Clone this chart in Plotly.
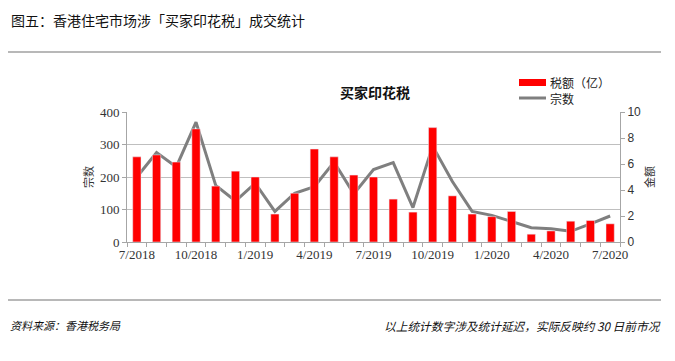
import plotly.graph_objects as go

months = ["7/2018", "8/2018", "9/2018", "10/2018", "11/2018", "12/2018",
          "1/2019", "2/2019", "3/2019", "4/2019", "5/2019", "6/2019",
          "7/2019", "8/2019", "9/2019", "10/2019", "11/2019", "12/2019",
          "1/2020", "2/2020", "3/2020", "4/2020", "5/2020", "6/2020", "7/2020"]
tax_amount = [6.55, 6.7, 6.15, 8.7, 4.3, 5.45, 5.0, 2.15, 3.75, 7.15, 6.55, 5.15,
              5.0, 3.3, 2.3, 8.8, 3.55, 2.15, 1.95, 2.35, 0.6, 0.85, 1.6, 1.65, 1.4]
cases = [200, 275, 231, 369, 174, 126, 181, 94, 150, 170, 246, 148,
         223, 244, 106, 295, 186, 94, 82, 63, 44, 41, 33, 56, 80]
tick_labels = ["7/2018", "10/2018", "1/2019", "4/2019", "7/2019",
               "10/2019", "1/2020", "4/2020", "7/2020"]

# page body has an 8px margin, so the figure is drawn 8px smaller and offset
O = 8
W, H = 675 - O, 361 - O
L, T = 127 - O, 112 - O
R = W - (620 - O)
B = H - (242 - O)
PW, PH = W - L - R, H - T - B

def px(x):
    return (x - O - L) / PW

def py(y):
    return (H - B - (y - O)) / PH

idx = list(range(len(months)))
tick_idx = [months.index(t) for t in tick_labels]

CJK = "Noto Sans CJK SC"
SERIF = "Liberation Serif"
RED = "#FF0000"
GREY = "#7F7F7F"

fig = go.Figure()
fig.add_trace(go.Bar(x=idx, y=tax_amount, name="税额（亿）", marker_color=RED,
                     yaxis="y2"))
fig.add_trace(go.Scatter(x=idx, y=cases, name="宗数", mode="lines",
                         line=dict(color=GREY, width=3), yaxis="y"))

fig.update_layout(
    width=W, height=H,
    margin=dict(l=L, r=R, t=T, b=B),
    paper_bgcolor="white", plot_bgcolor="white",
    bargap=0.58,
    showlegend=False,
    xaxis=dict(range=[-0.5, len(months) - 0.5], tickmode="array",
               tickvals=tick_idx, ticktext=tick_labels, ticks="",
               showline=True, linecolor="#A6A6A6", linewidth=1,
               showgrid=False, zeroline=False,
               tickfont=dict(family=SERIF, size=13, color="#333"),
               minor=dict(ticks="outside", tick0=-0.5, dtick=1, ticklen=4,
                          tickcolor="#A6A6A6", showgrid=False)),
    yaxis=dict(range=[0, 400], dtick=100, showgrid=True, gridcolor="#BFBFBF",
               showline=True, linecolor="#A6A6A6", zeroline=False,
               ticks="outside", ticklen=4, tickcolor="#A6A6A6",
               tickfont=dict(family=SERIF, size=13, color="#333"),
               title=dict(text="宗数", font=dict(family=CJK, size=11, color="#333"),
                          standoff=4)),
    yaxis2=dict(range=[0, 10], dtick=2, overlaying="y", side="right",
                showgrid=False, showline=True, linecolor="#A6A6A6", zeroline=False,
                ticks="outside", ticklen=4, tickcolor="#A6A6A6",
                tickfont=dict(family="Liberation Sans", size=12, color="#333"),
                title=dict(text="金额", font=dict(family=CJK, size=11, color="#333"),
                           standoff=6)),
)

# legend drawn by hand to match the reference's wide swatches
fig.add_shape(type="rect", xref="paper", yref="paper",
              x0=px(519), x1=px(546), y0=py(79), y1=py(86),
              fillcolor=RED, line=dict(width=0))
fig.add_shape(type="line", xref="paper", yref="paper",
              x0=px(519), x1=px(546), y0=py(98), y1=py(98),
              line=dict(color=GREY, width=3))
fig.add_annotation(text="税额（亿）", xref="paper", yref="paper",
                   x=px(548), y=py(82), xanchor="left", yanchor="middle",
                   showarrow=False, font=dict(family=CJK, size=12, color="#222"))
fig.add_annotation(text="宗数", xref="paper", yref="paper",
                   x=px(548), y=py(98), xanchor="left", yanchor="middle",
                   showarrow=False, font=dict(family=CJK, size=12, color="#222"))

fig.add_annotation(text="图五：香港住宅市场涉「买家印花税」成交统计",
                   xref="paper", yref="paper", x=px(9), y=py(20),
                   xanchor="left", yanchor="middle", showarrow=False,
                   font=dict(family=CJK, size=14, color="#111"))
fig.add_annotation(text="<b>买家印花税</b>", xref="paper", yref="paper",
                   x=px(375), y=py(92), xanchor="center", yanchor="middle",
                   showarrow=False, font=dict(family=CJK, size=14, color="#111"))
fig.add_annotation(text="<i>资料来源：香港税务局</i>", xref="paper", yref="paper",
                   x=px(8), y=py(325), xanchor="left", yanchor="middle",
                   showarrow=False, font=dict(family=CJK, size=11, color="#111"))
fig.add_annotation(text="<i>以上统计数字涉及统计延迟，实际反映约 30 日前市况</i>",
                   xref="paper", yref="paper", x=px(663), y=py(325),
                   xanchor="right", yanchor="middle", showarrow=False,
                   font=dict(family=CJK, size=11.7, color="#111"))

for yy in (52, 300):
    fig.add_shape(type="line", xref="paper", yref="paper",
                  x0=px(8), x1=px(661), y0=py(yy), y1=py(yy),
                  line=dict(color="#A0A0A0", width=1.5))

fig.write_html("out.html")
